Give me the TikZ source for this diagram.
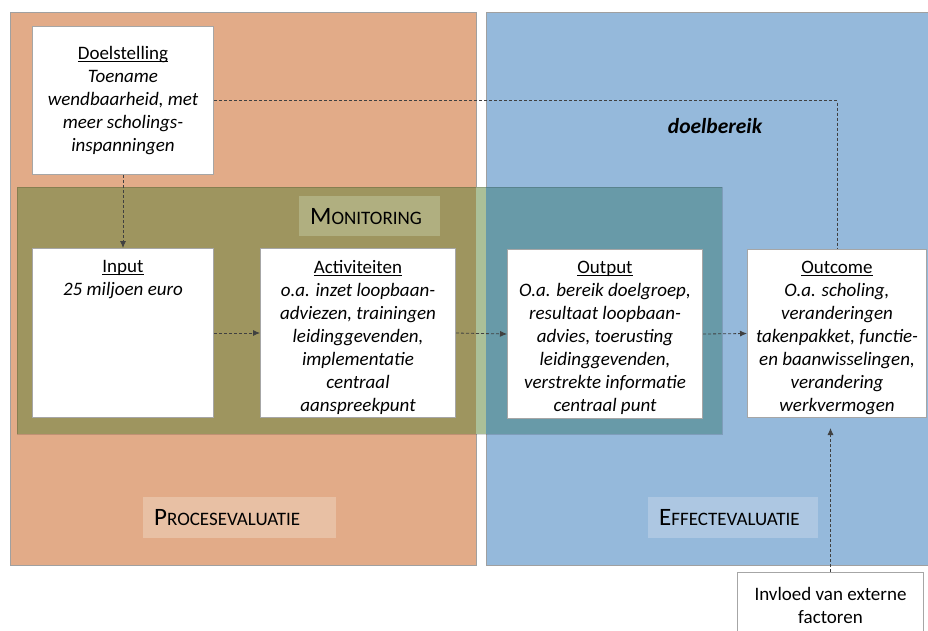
\documentclass[tikz,border=0pt]{standalone}
\usepackage{fontspec}
\setmainfont{Carlito}
\usetikzlibrary{calc,arrows.meta,positioning}

\definecolor{procorange}{RGB}{226,171,136}
\definecolor{effblue}{RGB}{149,185,219}
\definecolor{monolive}{RGB}{158,149,95}
\definecolor{mongreen}{RGB}{171,192,152}
\definecolor{monteal}{RGB}{104,154,168}
\definecolor{monlabel}{RGB}{176,175,128}
\definecolor{proclabel}{RGB}{232,192,164}
\definecolor{efflabel}{RGB}{173,199,226}
\definecolor{boxgray}{RGB}{166,166,166}
\definecolor{panelgray}{RGB}{160,160,160}
\definecolor{linegray}{RGB}{64,64,64}

\newcommand{\headline}[1]{{\upshape\setbox0\hbox{#1}\rlap{\rule[-2.5pt]{\wd0}{0.9pt}}\box0}}
\newcommand{\sctext}[2]{{\fontsize{25}{25}\selectfont #1}{\fontsize{19}{19}\selectfont #2}}

\tikzset{
  box/.style={anchor=north west, draw=boxgray, fill=white, line width=1pt, inner sep=0pt},
  txt/.style={anchor=north, align=center, inner sep=0pt, font=\fontsize{19}{23}\selectfont},
  itxt/.style={txt, font=\fontsize{19}{23}\selectfont\itshape},
  tag/.style={anchor=north west, inner xsep=11pt, inner ysep=0pt, align=left},
  link/.style={densely dashed, draw=linegray, line width=0.8pt},
  flow/.style={link, -{Latex[length=7pt,width=6pt]}},
}

\begin{document}
\begin{tikzpicture}[x=1pt,y=-1pt]
	\useasboundingbox (0,0) rectangle (928,630);

	% Panels
	\draw [draw=panelgray, fill=procorange] (10,12) rectangle (476,565);
	\draw [draw=panelgray, fill=effblue] (486,12) rectangle (940,565);

	% Monitoring band
	\fill [monolive] (17,187) rectangle (476,434);
	\fill [mongreen] (476,187) rectangle (486,434);
	\fill [monteal] (486,187) rectangle (722,434);
	\draw [draw=black, opacity=0.15] (17,187) rectangle (722,434);

	% Labels
	\node [tag, fill=monlabel, text width=119, minimum height=40] (monitoring) at (299,196) {\sctext{M}{ONITORING}};
	\node [tag, fill=proclabel, text width=171, minimum height=41] (proces) at (143,497) {\sctext{P}{ROCESEVALUATIE}};
	\node [tag, fill=efflabel, text width=148, minimum height=41] (effect) at (648,497) {\sctext{E}{FFECTEVALUATIE}};
	\node [font=\fontsize{21.5}{25}\selectfont\bfseries\itshape] (doelbereik) at (715,126) {doelbereik};

	% Boxes
	\node [box, minimum width=181, minimum height=148] (doel) at (32,26) {};
	\node [box, minimum width=181, minimum height=169] (input) at (32,248) {};
	\node [box, minimum width=195, minimum height=169] (act) at (260,248) {};
	\node [box, minimum width=195, minimum height=169] (output) at (507,249) {};
	\node [box, minimum width=179, minimum height=168] (outcome) at (747,249) {};
	\node [box, minimum width=186, minimum height=80] (invloed) at (737,572) {};

	% Box texts
	\node [itxt, anchor=center] (doeltxt) at (doel.center) {\headline{Doelstelling}\\Toename\\wendbaarheid, met\\meer scholings-\\inspanningen};
	\node [itxt] (inputtxt) at ($(input.north)+(0,12)$) {\headline{Input}\\25 miljoen euro};
	\node [itxt] (acttxt) at ($(act.north)+(0,12)$) {\headline{Activiteiten}\\o.a. inzet loopbaan-\\adviezen, trainingen\\leidinggevenden,\\implementatie\\centraal\\aanspreekpunt};
	\node [itxt] (outputtxt) at ($(output.north)+(0,12)$) {\headline{Output}\\O.a. bereik doelgroep,\\resultaat loopbaan-\\advies, toerusting\\leidinggevenden,\\verstrekte informatie\\centraal punt};
	\node [itxt] (outcometxt) at ($(outcome.north)+(0,12)$) {\headline{Outcome}\\O.a. scholing,\\veranderingen\\takenpakket, functie-\\en baanwisselingen,\\verandering\\werkvermogen};
	\node [txt] (invloedtxt) at ($(invloed.north)+(0,15)$) {Invloed van externe\\factoren};

	% Connectors
	\draw [flow] (doel.south) -- (input.north);
	\draw [flow] (input.east) -- (act.west);
	\draw [flow] (act.east) -- (output.west);
	\draw [flow] (output.east) -- (outcome.west);
	\draw [link] (doel.east) -| (outcome.north);
	\draw [flow, shorten >=10pt] (invloed.north) -- (invloed.north |- outcome.south);

\end{tikzpicture}
\end{document}
